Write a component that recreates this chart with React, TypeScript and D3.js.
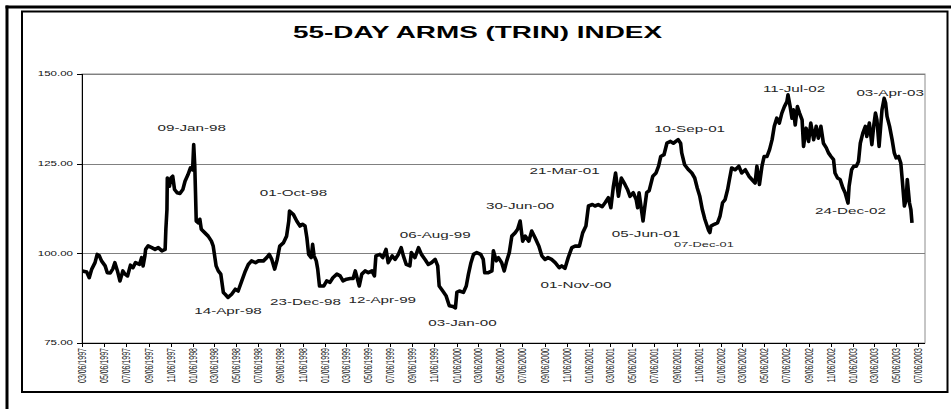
import React from "react";
import * as d3 from "d3";

// 55-day Arms (TRIN) index at roughly weekly spacing
const dates = [
  "1997-03-07", "1997-03-19", "1997-03-26", "1997-04-02", "1997-04-11", "1997-04-17", "1997-04-23", "1997-04-29",
  "1997-05-09", "1997-05-15", "1997-05-23", "1997-05-30", "1997-06-05", "1997-06-12", "1997-06-19", "1997-06-27",
  "1997-07-03", "1997-07-10", "1997-07-18", "1997-07-25", "1997-08-01", "1997-08-12", "1997-08-18", "1997-08-22",
  "1997-08-27", "1997-08-29", "1997-09-05", "1997-09-15", "1997-09-24", "1997-10-03", "1997-10-13", "1997-10-22",
  "1997-10-24", "1997-10-27", "1997-10-28", "1997-11-03", "1997-11-07", "1997-11-12", "1997-11-17", "1997-11-24",
  "1997-12-02", "1997-12-10", "1997-12-16", "1997-12-24", "1997-12-31", "1998-01-06", "1998-01-09", "1998-01-12",
  "1998-01-14", "1998-01-16", "1998-01-22", "1998-01-26", "1998-01-30", "1998-02-09", "1998-02-18", "1998-02-27",
  "1998-03-04", "1998-03-12", "1998-03-18", "1998-03-25", "1998-04-01", "1998-04-06", "1998-04-14", "1998-04-24",
  "1998-05-04", "1998-05-12", "1998-05-22", "1998-06-01", "1998-06-09", "1998-06-18", "1998-06-29", "1998-07-07",
  "1998-07-21", "1998-07-30", "1998-08-06", "1998-08-13", "1998-08-21", "1998-08-28", "1998-09-04", "1998-09-14",
  "1998-09-23", "1998-09-29", "1998-10-01", "1998-10-12", "1998-10-21", "1998-10-30", "1998-11-06", "1998-11-13",
  "1998-11-18", "1998-11-23", "1998-11-30", "1998-12-04", "1998-12-08", "1998-12-14", "1998-12-18", "1998-12-23",
  "1999-01-04", "1999-01-12", "1999-01-21", "1999-01-29", "1999-02-09", "1999-02-18", "1999-02-26", "1999-03-08",
  "1999-03-18", "1999-03-26", "1999-04-01", "1999-04-12", "1999-04-19", "1999-04-28", "1999-05-07", "1999-05-17",
  "1999-05-24", "1999-05-28", "1999-06-08", "1999-06-16", "1999-06-25", "1999-07-01", "1999-07-12", "1999-07-20",
  "1999-07-29", "1999-08-06", "1999-08-12", "1999-08-20", "1999-08-30", "1999-09-03", "1999-09-13", "1999-09-23",
  "1999-10-01", "1999-10-11", "1999-10-20", "1999-10-29", "1999-11-08", "1999-11-15", "1999-11-19", "1999-11-29",
  "1999-12-08", "1999-12-17", "1999-12-27", "2000-01-03", "2000-01-07", "2000-01-14", "2000-01-25", "2000-02-02",
  "2000-02-08", "2000-02-15", "2000-02-22", "2000-03-02", "2000-03-13", "2000-03-20", "2000-03-24", "2000-04-03",
  "2000-04-13", "2000-04-17", "2000-04-25", "2000-05-01", "2000-05-10", "2000-05-17", "2000-05-24", "2000-05-31",
  "2000-06-07", "2000-06-16", "2000-06-23", "2000-06-30", "2000-07-07", "2000-07-14", "2000-07-24", "2000-08-01",
  "2000-08-10", "2000-08-21", "2000-08-29", "2000-09-07", "2000-09-15", "2000-09-25", "2000-10-05", "2000-10-16",
  "2000-10-23", "2000-11-01", "2000-11-10", "2000-11-20", "2000-11-29", "2000-12-11", "2000-12-20", "2000-12-29",
  "2001-01-05", "2001-01-16", "2001-01-23", "2001-02-01", "2001-02-12", "2001-02-20", "2001-03-01", "2001-03-08",
  "2001-03-15", "2001-03-21", "2001-03-29", "2001-04-06", "2001-04-16", "2001-04-23", "2001-04-30", "2001-05-09",
  "2001-05-17", "2001-05-21", "2001-05-25", "2001-06-05", "2001-06-08", "2001-06-15", "2001-06-22", "2001-07-02",
  "2001-07-11", "2001-07-18", "2001-07-24", "2001-08-02", "2001-08-10", "2001-08-20", "2001-08-28", "2001-09-10",
  "2001-09-17", "2001-09-20", "2001-09-28", "2001-10-09", "2001-10-18", "2001-10-26", "2001-11-02", "2001-11-09",
  "2001-11-16", "2001-11-23", "2001-12-03", "2001-12-07", "2001-12-10", "2001-12-19", "2001-12-28", "2002-01-04",
  "2002-01-11", "2002-01-18", "2002-01-25", "2002-01-30", "2002-02-05", "2002-02-15", "2002-02-25", "2002-03-05",
  "2002-03-15", "2002-03-25", "2002-04-02", "2002-04-11", "2002-04-16", "2002-04-23", "2002-04-30", "2002-05-06",
  "2002-05-14", "2002-05-21", "2002-05-28", "2002-06-03", "2002-06-10", "2002-06-17", "2002-06-24", "2002-07-01",
  "2002-07-08", "2002-07-11", "2002-07-17", "2002-07-22", "2002-07-26", "2002-07-31", "2002-08-06", "2002-08-12",
  "2002-08-19", "2002-08-23", "2002-08-30", "2002-09-06", "2002-09-12", "2002-09-20", "2002-09-27", "2002-10-03",
  "2002-10-10", "2002-10-17", "2002-10-25", "2002-10-31", "2002-11-07", "2002-11-14", "2002-11-18", "2002-11-25",
  "2002-12-02", "2002-12-10", "2002-12-16", "2002-12-24", "2002-12-27", "2003-01-03", "2003-01-09", "2003-01-16",
  "2003-01-22", "2003-01-27", "2003-02-03", "2003-02-10", "2003-02-14", "2003-02-21", "2003-02-28", "2003-03-05",
  "2003-03-10", "2003-03-14", "2003-03-20", "2003-03-28", "2003-04-03", "2003-04-07", "2003-04-11", "2003-04-18",
  "2003-04-25", "2003-05-01", "2003-05-06", "2003-05-13", "2003-05-19", "2003-05-23", "2003-05-29", "2003-06-03",
  "2003-06-06", "2003-06-12", "2003-06-16", "2003-06-19",
];

const values = [
  95.1, 94.8, 93.2, 95.6, 97.4, 99.7, 99.3, 97.9,
  96.5, 94.6, 94.5, 95.6, 97.4, 95.1, 92.3, 95.1,
  94.2, 93.7, 96.7, 96.0, 97.4, 96.9, 98.8, 96.5,
  99.3, 101.1, 102.1, 101.6, 101.1, 101.6, 100.7, 101.1,
  106.7, 112.2, 121.0, 118.7, 121.0, 121.5, 117.8, 116.9,
  116.7, 117.8, 120.1, 121.9, 123.8, 123.3, 130.3, 124.3,
  116.9, 109.0, 108.5, 109.5, 106.7, 105.7, 104.8, 103.4,
  102.0, 96.5, 95.1, 94.2, 89.1, 88.6, 87.7, 88.6,
  90.0, 89.5, 92.3, 95.1, 96.9, 97.9, 97.4, 97.9,
  97.9, 98.8, 99.7, 98.3, 95.6, 98.3, 102.0, 102.9,
  104.8, 109.0, 111.8, 110.8, 109.0, 107.6, 108.1, 107.6,
  104.4, 99.7, 98.8, 102.5, 99.3, 97.9, 95.6, 90.9,
  90.9, 92.3, 91.9, 93.2, 94.2, 93.7, 92.3, 92.8,
  93.0, 93.0, 95.1, 90.9, 94.2, 95.1, 94.6, 95.1,
  93.7, 99.3, 99.7, 98.8, 101.1, 97.4, 99.3, 98.3,
  99.7, 101.6, 99.3, 96.9, 96.5, 100.2, 98.8, 101.6,
  99.7, 98.3, 96.9, 97.4, 98.3, 96.5, 90.9, 89.5,
  88.2, 85.4, 85.2, 84.8, 89.1, 89.5, 89.1, 90.9,
  94.2, 97.4, 99.7, 100.2, 99.7, 98.3, 94.6, 94.6,
  95.1, 100.7, 97.9, 98.8, 97.4, 95.1, 97.9, 100.2,
  104.8, 105.7, 106.7, 109.0, 103.4, 104.8, 103.4, 106.2,
  104.4, 102.0, 99.3, 98.3, 98.8, 98.3, 97.4, 96.0,
  96.5, 95.8, 98.8, 101.6, 102.0, 102.0, 105.7, 107.6,
  113.2, 113.6, 113.2, 113.6, 113.0, 114.1, 115.5, 112.7,
  118.7, 122.4, 115.9, 121.0, 119.2, 117.8, 115.9, 116.9,
  115.0, 112.7, 116.9, 109.0, 111.5, 116.9, 117.5, 121.5,
  122.4, 124.3, 127.0, 127.5, 130.7, 131.2, 130.7, 131.7,
  130.7, 128.0, 124.7, 123.3, 122.4, 121.0, 118.2, 115.9,
  112.2, 109.5, 106.5, 105.8, 107.6, 108.1, 108.5, 110.4,
  114.1, 115.0, 117.8, 120.6, 123.8, 123.3, 124.3, 122.4,
  123.3, 121.5, 120.6, 119.6, 124.3, 119.2, 124.3, 127.0,
  127.0, 128.9, 131.7, 135.4, 137.7, 136.3, 139.1, 140.9,
  142.3, 144.2, 140.9, 137.7, 140.0, 135.8, 140.9, 139.1,
  137.2, 129.8, 134.9, 131.2, 136.3, 131.7, 135.4, 132.1,
  135.4, 130.7, 129.4, 128.0, 127.0, 126.1, 122.4, 121.0,
  120.6, 118.2, 116.9, 114.0, 118.7, 123.3, 124.3, 124.3,
  125.6, 130.7, 133.5, 135.4, 132.6, 136.3, 130.3, 135.4,
  139.1, 137.2, 129.8, 140.0, 143.2, 141.9, 138.2, 135.4,
  131.7, 128.0, 126.6, 127.0, 125.2, 120.6, 113.2, 115.0,
  120.6, 114.1, 112.2, 108.5,
];

const peakLabels = [
  "09-Jan-98", "14-Apr-98", "01-Oct-98", "23-Dec-98", "12-Apr-99", "06-Aug-99",
  "03-Jan-00", "30-Jun-00", "01-Nov-00", "21-Mar-01", "05-Jun-01", "10-Sep-01",
  "07-Dec-01", "11-Jul-02", "24-Dec-02", "03-Apr-03",
];

const xTickLabels = [
  "03/06/1997", "05/06/1997", "07/06/1997", "09/06/1997", "11/06/1997",
  "01/06/1998", "03/06/1998", "05/06/1998", "07/06/1998", "09/06/1998", "11/06/1998",
  "01/06/1999", "03/06/1999", "05/06/1999", "07/06/1999", "09/06/1999", "11/06/1999",
  "01/06/2000", "03/06/2000", "05/06/2000", "07/06/2000", "09/06/2000", "11/06/2000",
  "01/06/2001", "03/06/2001", "05/06/2001", "07/06/2001", "09/06/2001", "11/06/2001",
  "01/06/2002", "03/06/2002", "05/06/2002", "07/06/2002", "09/06/2002", "11/06/2002",
  "01/06/2003", "03/06/2003", "05/06/2003", "07/06/2003",
];

const yTicks = [75, 100, 125, 150];

const title = "55-DAY ARMS (TRIN) INDEX";

// label placement relative to the dated point: [dx, dy, fontSize]
const labelLayout: [number, number, number][] = [
  [-2, -13.5, 9.5], [0, 17, 9.5], [4, -15, 9.5], [-14, 19, 9.5], [23, 17, 9.5], [34, -10, 9.5],
  [7, 18, 9.5], [0, -12, 9.5], [11, 20, 9.5], [-51, 1, 9.5], [3, 16, 9.5], [11.5, -7.5, 9.5],
  [-6, 14, 8], [6, -2.5, 9.5], [2.5, 11, 9.5], [6, -2, 9.5],
];

const W = 951;
const H = 409;
const plot = { left: 82, right: 925, top: 74, bottom: 343 };
const font = "'Liberation Sans', Arial, sans-serif";
const stretch = 1.6;

const parseDay = d3.timeParse("%Y-%m-%d");
const parseTick = d3.timeParse("%m/%d/%Y");
const parseLabel = d3.timeParse("%d-%b-%y");

export default function App() {
  const series = dates.map((d, i) => ({ date: parseDay(d) as Date, value: values[i] }));

  const x = d3.scaleTime()
    .domain([new Date(1997, 2, 6), new Date(2003, 6, 25)])
    .range([plot.left, plot.right]);

  const y = d3.scaleLinear()
    .domain([75, 150])
    .range([plot.bottom, plot.top]);

  const line = d3.line<{ date: Date; value: number }>()
    .x(d => x(d.date))
    .y(d => y(d.value));

  const bisect = d3.bisector((d: { date: Date }) => d.date).center;

  return (
    <svg width={W} height={H} style={{ position: "absolute", left: 0, top: 0, background: "#fff" }}>
      <rect x={0} y={0} width={W} height={H} fill="#fff" />

      {/* frames */}
      <line x1={5.5} x2={W} y1={7} y2={7} stroke="#000" strokeWidth={3} />
      <line x1={7} x2={7} y1={5.5} y2={H} stroke="#000" strokeWidth={3} />
      <rect x={22} y={11.5} width={925.5} height={380.5} fill="none" stroke="#000" strokeWidth={2} />

      <text
        x={477.5}
        y={37.5}
        textAnchor="middle"
        fontFamily={font}
        fontWeight="bold"
        fontSize={16.5}
        textLength={369}
        lengthAdjust="spacingAndGlyphs"
      >
        {title}
      </text>

      {/* plot area */}
      <rect
        x={plot.left}
        y={plot.top}
        width={plot.right - plot.left}
        height={plot.bottom - plot.top}
        fill="none"
        stroke="#8c8c8c"
        strokeWidth={1}
      />
      {yTicks.filter(t => t > 75).map(t => (
        <line key={t} x1={plot.left} x2={plot.right} y1={Math.round(y(t)) + 0.5} y2={Math.round(y(t)) + 0.5} stroke="#808080" />
      ))}

      {/* y axis */}
      <line x1={plot.left + 0.5} x2={plot.left + 0.5} y1={plot.top} y2={plot.bottom} stroke="#000" />
      {yTicks.map(t => (
        <g key={t}>
          <line x1={plot.left - 5} x2={plot.left} y1={Math.round(y(t)) + 0.5} y2={Math.round(y(t)) + 0.5} stroke="#000" />
          <text
            transform={`translate(73,${y(t)}) scale(1.65,1)`}
            dy="0.35em"
            textAnchor="end"
            fontFamily={font}
            fontSize={7}
            fill="#111"
          >
            {d3.format(".2f")(t)}
          </text>
        </g>
      ))}

      {/* x axis */}
      <line x1={plot.left} x2={plot.right} y1={plot.bottom + 0.5} y2={plot.bottom + 0.5} stroke="#000" />
      {xTickLabels.map(label => {
        const tx = Math.round(x(parseTick(label) as Date)) + 0.5;
        return (
          <g key={label}>
            <line x1={tx} x2={tx} y1={plot.bottom} y2={plot.bottom + 4} stroke="#000" />
            <text
              transform={`translate(${tx},348) scale(1.45,1) rotate(-90)`}
              dy="0.35em"
              textAnchor="end"
              fontFamily={font}
              fontSize={7}
              fill="#111"
            >
              {label}
            </text>
          </g>
        );
      })}

      {/* series */}
      <path d={line(series) || ""} fill="none" stroke="#000" strokeWidth={3.6} strokeLinejoin="round" />

      {/* turning point labels */}
      {peakLabels.map((label, i) => {
        const date = parseLabel(label) as Date;
        const p = series[bisect(series, date)];
        const [dx, dy, fs] = labelLayout[i];
        return (
          <text
            key={label}
            transform={`translate(${x(date) + dx},${y(p.value) + dy}) scale(${stretch},1)`}
            textAnchor="middle"
            fontFamily={font}
            fontSize={fs}
            fill="#262626"
          >
            {label}
          </text>
        );
      })}
    </svg>
  );
}
